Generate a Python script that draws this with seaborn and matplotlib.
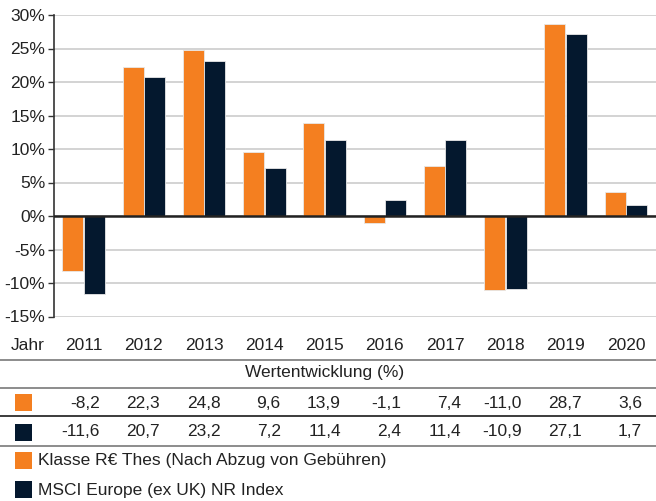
import numpy as np
import pandas as pd
import matplotlib
matplotlib.use("Agg")
import matplotlib.pyplot as plt
import matplotlib.transforms as mtransforms
from matplotlib.lines import Line2D
from matplotlib.patches import Rectangle
import seaborn as sns

years = ["2011", "2012", "2013", "2014", "2015", "2016", "2017", "2018", "2019", "2020"]
fund = [-8.2, 22.3, 24.8, 9.6, 13.9, -1.1, 7.4, -11.0, 28.7, 3.6]
index = [-11.6, 20.7, 23.2, 7.2, 11.4, 2.4, 11.4, -10.9, 27.1, 1.7]
series_names = ["Klasse R€ Thes (Nach Abzug von Gebühren)", "MSCI Europe (ex UK) NR Index"]
y_ticks = [-15, -10, -5, 0, 5, 10, 15, 20, 25, 30]

ORANGE = "#F47F20"
NAVY = "#04182E"
TXT = "#222222"

df = pd.DataFrame({
    "Jahr": years * 2,
    "Wert": fund + index,
    "Serie": [series_names[0]] * len(years) + [series_names[1]] * len(years),
})

sns.set_style("white")
plt.rcParams["font.family"] = ["Liberation Sans", "DejaVu Sans"]

W, H = 656, 501
fig = plt.figure(figsize=(W / 100, H / 100), dpi=100)

def fy(px):
    return 1 - px / H

ax_left, ax_right = 53.5, 656
ax_top, ax_bottom = 15, 316.5
ax = fig.add_axes([ax_left / W, fy(ax_bottom), (ax_right - ax_left) / W, (ax_bottom - ax_top) / H])

sns.barplot(data=df, x="Jahr", y="Wert", hue="Serie", palette=[ORANGE, NAVY],
            saturation=1, width=0.72, gap=0.03, edgecolor="#e8e8e8", linewidth=0.6,
            legend=False, ax=ax, zorder=3)

ax.set_xlim(-0.5, len(years) - 0.5)
ax.set_ylim(-15, 30)
ax.set_yticks(y_ticks)
ax.set_yticklabels([f"{t}%" for t in y_ticks], fontsize=12.5, color=TXT)
ax.yaxis.grid(True, color="#cccccc", linewidth=1.2, zorder=0)
ax.set_axisbelow(True)
ax.axhline(0, color="#222222", linewidth=1.8, zorder=4)
ax.tick_params(axis="y", length=4, width=1, color="#333333", pad=2, left=True)
ax.tick_params(axis="x", length=0, labelbottom=False)
ax.set_xlabel("")
ax.set_ylabel("")
for side in ["top", "right", "bottom"]:
    ax.spines[side].set_visible(False)
ax.spines["left"].set_color("#333333")
ax.spines["left"].set_linewidth(1.2)

# table below the chart
trans = mtransforms.blended_transform_factory(ax.transData, fig.transFigure)
fs = 12.5
fig.text(11 / W, fy(345), "Jahr", fontsize=fs, color=TXT, va="center", ha="left")
for i, yr in enumerate(years):
    ax.text(i, fy(345), yr, transform=trans, fontsize=fs, color=TXT,
            ha="center", va="center", clip_on=False)
    ax.text(i + 0.27, fy(403), f"{fund[i]:.1f}".replace(".", ","), transform=trans,
            fontsize=fs, color=TXT, ha="right", va="center", clip_on=False)
    ax.text(i + 0.27, fy(432), f"{index[i]:.1f}".replace(".", ","), transform=trans,
            fontsize=fs, color=TXT, ha="right", va="center", clip_on=False)

fig.text(325 / W, fy(372), "Wertentwicklung (%)", fontsize=fs, color=TXT, ha="center", va="center")

for ypx, col, lw in [(359.5, "#8c8c8c", 1.4), (387.5, "#8c8c8c", 1.4),
                     (416, "#1a1a1a", 1.2), (445.5, "#8c8c8c", 1.4)]:
    fig.add_artist(Line2D([0, 1], [fy(ypx), fy(ypx)], transform=fig.transFigure,
                          color=col, linewidth=lw))

def square(ytop, col):
    fig.add_artist(Rectangle((14.5 / W, fy(ytop + 17)), 17.5 / W, 17 / H,
                             transform=fig.transFigure, facecolor=col, edgecolor="none"))

square(393.5, ORANGE)
square(423.5, NAVY)
square(452, ORANGE)
square(481, NAVY)

fig.text(38 / W, fy(461), series_names[0], fontsize=fs, color=TXT, va="center", ha="left")
fig.text(38 / W, fy(490), series_names[1], fontsize=fs, color=TXT, va="center", ha="left")

fig.savefig("out.png", dpi=100)
